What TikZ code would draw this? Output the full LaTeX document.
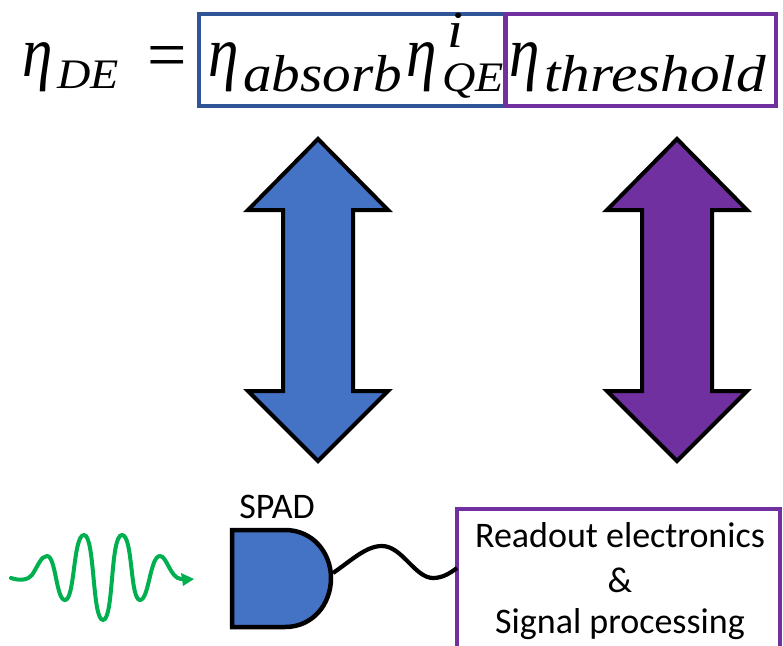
\documentclass[tikz,border=0pt]{standalone}
\usepackage{fontspec}
\setmainfont{Carlito}
\newfontfamily\subf[FakeStretch=1.1]{Liberation Serif}
\newfontfamily\subg[FakeStretch=1.14]{Liberation Serif}
\newfontfamily\etaf[FakeStretch=0.85]{Liberation Serif}
\newfontfamily\eqf{Liberation Serif}
\usetikzlibrary{arrows.meta}
\definecolor{bfill}{HTML}{4472C4}
\definecolor{bline}{HTML}{2F5597}
\definecolor{purp}{HTML}{7030A0}
\definecolor{grn}{HTML}{00B050}
\tikzset{
  eta/.style={inner sep=0pt,anchor=base west,font=\etaf\itshape\fontsize{72}{72}\selectfont},
  subs/.style={inner sep=0pt,anchor=base west,font=\subf\itshape\fontsize{52}{52}\selectfont},
  subt/.style={inner sep=0pt,anchor=base west,font=\subg\itshape\fontsize{52}{52}\selectfont},
  subsm/.style={inner sep=0pt,anchor=base west,font=\subf\itshape\fontsize{42}{42}\selectfont},
  dbl/.style={draw=black,line width=4pt,miter limit=10},
  lab/.style={inner sep=0pt,font=\fontsize{36}{40}\selectfont,align=center},
}
\newcommand{\dblarrow}[2]{%
 \fill[#2,dbl] (#1,139) -- (#1+70,210) -- (#1+35,210) -- (#1+35,391) -- (#1+70,391) -- (#1,461) -- (#1-70,391) -- (#1-35,391) -- (#1-35,210) -- (#1-70,210) -- cycle;}
\begin{document}
\begin{tikzpicture}[x=1pt,y=-1pt]
\useasboundingbox (0,0) rectangle (783,645);
\node[eta] (e1) at (22,76) {η};
\node[subsm] (s1) at (57,88) {DE};
\node[eta,font=\eqf\fontsize{70}{70}\selectfont] (eq) at (147,78) {=};
\draw[bline,line width=4pt] (199,14) rectangle (505,106);
\draw[purp,line width=4pt] (506,14) rectangle (776,106);
\node[eta] (e2) at (208,76) {η};
\node[subs] (s2) at (243,91) {absorb};
\node[eta] (e3) at (406,76) {η};
\node[subsm] (s3) at (442,91) {QE};
\node[subs] (s3b) at (447,47) {i};
\node[eta] (e4) at (509,76) {η};
\node[subt] (s4) at (544,91) {threshold};
\dblarrow{318}{bfill}
\dblarrow{677}{purp}
\node[lab] (spad) at (277,507) {SPAD};
\fill[bfill,draw=black,line width=4.5pt] (232,530) -- (285,530) .. controls (313,530) and (331,553) .. (331,578) .. controls (331,604) and (313,627) .. (285,627) -- (232,627) -- cycle;
\coordinate (sa) at (333,573);
\node[draw=purp,line width=4pt,fill=white,minimum width=323pt,minimum height=140pt,anchor=north west,inner sep=0pt] (box) at (455,507) {};
\coordinate (sb) at (457,568);
\draw[black,line width=4.2pt] (sa) .. controls (352,560) and (366,546) .. (382,546) .. controls (402,546) and (415,578) .. (433,578) .. controls (443,578) and (450,573) .. (sb);
\node[lab] (t1) at (620,535) {Readout electronics};
\node[lab] (t2) at (620,580) {\&};
\node[lab] (t3) at (620,624) {Signal processing};
\coordinate (wa) at (11,578);
\coordinate (wb) at (194,579);
\draw[grn,line width=4pt,line cap=round] (wa) .. controls (20,581) and (28,580) .. (32,575)
 .. controls (38,566) and (41,556) .. (47,556)
 .. controls (56,556) and (56,600) .. (65,600)
 .. controls (75,600) and (73,535) .. (84,535)
 .. controls (95,535) and (92,620) .. (103,620)
 .. controls (114,620) and (110,535) .. (122,535)
 .. controls (133,535) and (130,600) .. (140,600)
 .. controls (149,600) and (150,556) .. (160,556)
 .. controls (167,556) and (170,578) .. (181,579);
\fill[grn] (wb) -- (181,573) -- (183,586) -- cycle;
\end{tikzpicture}
\end{document}
